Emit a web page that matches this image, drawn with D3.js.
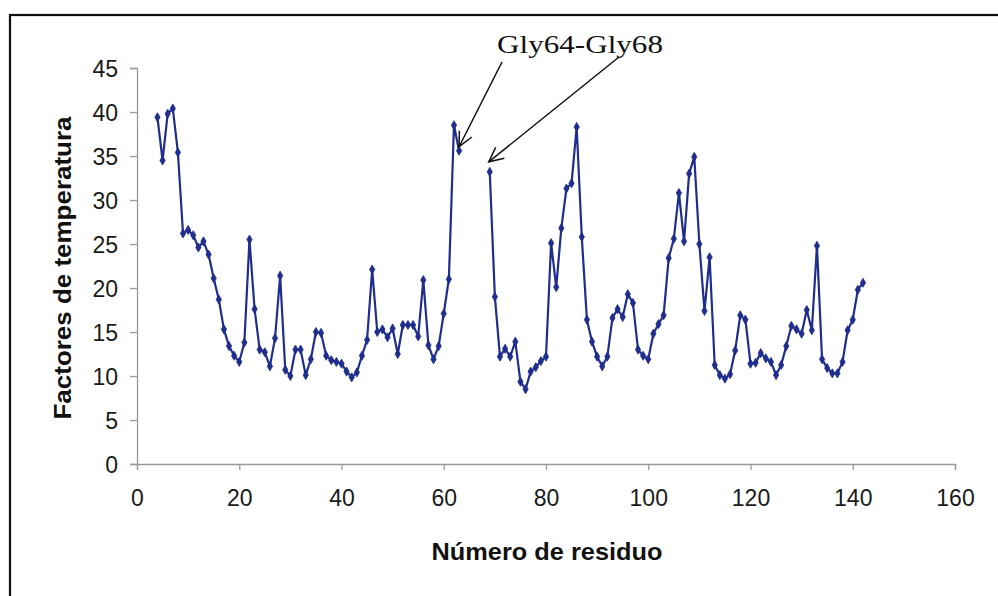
<!DOCTYPE html>
<html>
<head>
<meta charset="utf-8">
<script src="https://cdn.jsdelivr.net/npm/d3@7"></script>
<style>
  html, body { margin: 0; padding: 0; background: #ffffff; }
  svg { display: block; }
</style>
</head>
<body>
<div id="chart"></div>
<script>
// ---- Data ----
const residues = [
  4,5,6,7,8,9,10,11,12,13,14,15,16,17,18,19,20,21,22,23,24,25,26,27,28,29,30,
  31,32,33,34,35,36,37,38,39,40,41,42,43,44,45,46,47,48,49,50,51,52,53,54,55,
  56,57,58,59,60,61,62,63,64,65,66,67,68,69,70,71,72,73,74,75,76,77,78,79,80,
  81,82,83,84,85,86,87,88,89,90,91,92,93,94,95,96,97,98,99,100,101,102,103,
  104,105,106,107,108,109,110,111,112,113,114,115,116,117,118,119,120,121,122,
  123,124,125,126,127,128,129,130,131,132,133,134,135,136,137,138,139,140,141,142
];
// B-factors; null = residues Gly64–Gly68 not present
const bFactors = [
  39.4,34.5,39.8,40.4,35.4,26.2,26.6,26.0,24.6,25.3,23.8,21.1,18.7,15.3,13.4,12.3,11.6,
  13.8,25.5,17.6,13.0,12.7,11.1,14.3,21.4,10.7,10.0,13.0,13.0,10.1,11.9,15.0,14.9,
  12.3,11.8,11.6,11.4,10.5,9.85,10.4,12.3,14.1,22.1,15.0,15.3,14.4,15.4,12.5,15.8,
  15.8,15.8,14.5,20.9,13.5,11.9,13.4,17.1,21.0,38.5,35.6,
  null,null,null,null,null,
  33.2,19.0,12.2,13.1,12.2,13.9,9.35,8.5,10.5,11.0,11.7,12.2,25.1,20.1,26.8,31.3,
  31.9,38.3,25.8,16.4,13.9,12.2,11.1,12.2,16.6,17.6,16.7,19.3,18.3,13.0,12.3,11.9,
  14.8,15.9,16.9,23.4,25.6,30.8,25.3,33.0,34.9,25.0,17.4,23.5,11.25,10.1,9.7,10.2,
  12.9,16.9,16.4,11.4,11.5,12.6,12.0,11.6,10.1,11.25,13.4,15.7,15.3,14.8,17.5,15.2,
  24.8,11.9,10.9,10.3,10.3,11.6,15.2,16.4,19.8,20.6
];
const xTicks = [0,20,40,60,80,100,120,140,160];
const yTicks = [0,5,10,15,20,25,30,35,40,45];
const xTitle = "Número de residuo";
const yTitle = "Factores de temperatura";
const annotation = "Gly64-Gly68";
const annotatedResidues = [63, 69];

// ---- Layout ----
const W = 998, H = 596;
const lineColor = "#1f2d8c";

const svg = d3.select("#chart").append("svg")
  .attr("width", W).attr("height", H);

// outer frame (extends past right/bottom edges like the scan)
svg.append("rect")
  .attr("x", 10).attr("y", 15)
  .attr("width", 1010).attr("height", 600)
  .attr("fill", "none").attr("stroke", "#111").attr("stroke-width", 2.2);

const x = d3.scaleLinear().domain([0, 160]).range([137, 955]);
const y = d3.scaleLinear().domain([0, 45]).range([464, 68]);

// axes
const xAxis = svg.append("g")
  .attr("transform", `translate(0,${y(0)})`)
  .call(d3.axisBottom(x).tickValues(xTicks).tickSize(6).tickPadding(20).tickFormat(d3.format("d")));
const yAxis = svg.append("g")
  .attr("transform", `translate(${x(0)},0)`)
  .call(d3.axisLeft(y).tickValues(yTicks).tickSize(7).tickPadding(12).tickFormat(d3.format("d")));

[xAxis, yAxis].forEach(g => {
  g.select(".domain").attr("stroke", "#9a9a9a").attr("stroke-width", 1.3);
  g.selectAll(".tick line").attr("stroke", "#9a9a9a").attr("stroke-width", 1.3);
  g.selectAll(".tick text")
    .attr("fill", "#1a1a1a")
    .style("font-family", "'Liberation Sans', Arial, sans-serif")
    .style("font-size", "23px");
});
xAxis.selectAll(".tick text").attr("dy", "0.71em");
yAxis.selectAll(".tick text").attr("dy", "0.36em");

// line + markers
const pts = residues.map((r, i) => ({ r, v: bFactors[i] }));
const line = d3.line()
  .defined(d => d.v !== null)
  .x(d => x(d.r)).y(d => y(d.v));

svg.append("path")
  .datum(pts)
  .attr("d", line)
  .attr("fill", "none")
  .attr("stroke", lineColor)
  .attr("stroke-width", 2.2)
  .attr("stroke-linejoin", "round");

svg.append("g").selectAll("path")
  .data(pts.filter(d => d.v !== null))
  .join("path")
  .attr("transform", d => `translate(${x(d.r)},${y(d.v)})`)
  .attr("d", d3.symbol().type(d3.symbolDiamond).size(24))
  .attr("fill", lineColor)
  .attr("stroke", lineColor)
  .attr("stroke-width", 0.8);

// axis titles
svg.append("text")
  .attr("x", 547).attr("y", 560)
  .attr("text-anchor", "middle")
  .attr("textLength", 231).attr("lengthAdjust", "spacingAndGlyphs")
  .style("font-family", "'Liberation Sans', Arial, sans-serif")
  .style("font-weight", "bold").style("font-size", "24px")
  .attr("fill", "#111")
  .text(xTitle);

svg.append("text")
  .attr("transform", `translate(71,268) rotate(-90)`)
  .attr("text-anchor", "middle")
  .attr("textLength", 303).attr("lengthAdjust", "spacingAndGlyphs")
  .style("font-family", "'Liberation Sans', Arial, sans-serif")
  .style("font-weight", "bold").style("font-size", "23px")
  .attr("fill", "#111")
  .text(yTitle);

// annotation
svg.append("text")
  .attr("x", 580).attr("y", 53)
  .attr("text-anchor", "middle")
  .attr("textLength", 166).attr("lengthAdjust", "spacingAndGlyphs")
  .style("font-family", "'Liberation Serif', 'Times New Roman', serif")
  .style("font-size", "25px")
  .attr("fill", "#111")
  .text(annotation);

function arrow(x1, y1, x2, y2) {
  const g = svg.append("g").attr("stroke", "#111").attr("stroke-width", 1.5).attr("fill", "none");
  g.append("line").attr("x1", x1).attr("y1", y1).attr("x2", x2).attr("y2", y2);
  const ang = Math.atan2(y2 - y1, x2 - x1);
  const L = 16, spread = 0.45;
  const p1 = [x2 - L * Math.cos(ang - spread), y2 - L * Math.sin(ang - spread)];
  const p2 = [x2 - L * Math.cos(ang + spread), y2 - L * Math.sin(ang + spread)];
  g.append("path").attr("d", `M${p1[0]},${p1[1]} L${x2},${y2} L${p2[0]},${p2[1]}`);
}
const v63 = bFactors[residues.indexOf(annotatedResidues[0])];
const v69 = bFactors[residues.indexOf(annotatedResidues[1])];
arrow(502, 62, x(annotatedResidues[0]), y(v63) - 4);
arrow(619, 57, x(annotatedResidues[1]) - 1, y(v69) - 10);
</script>
</body>
</html>
